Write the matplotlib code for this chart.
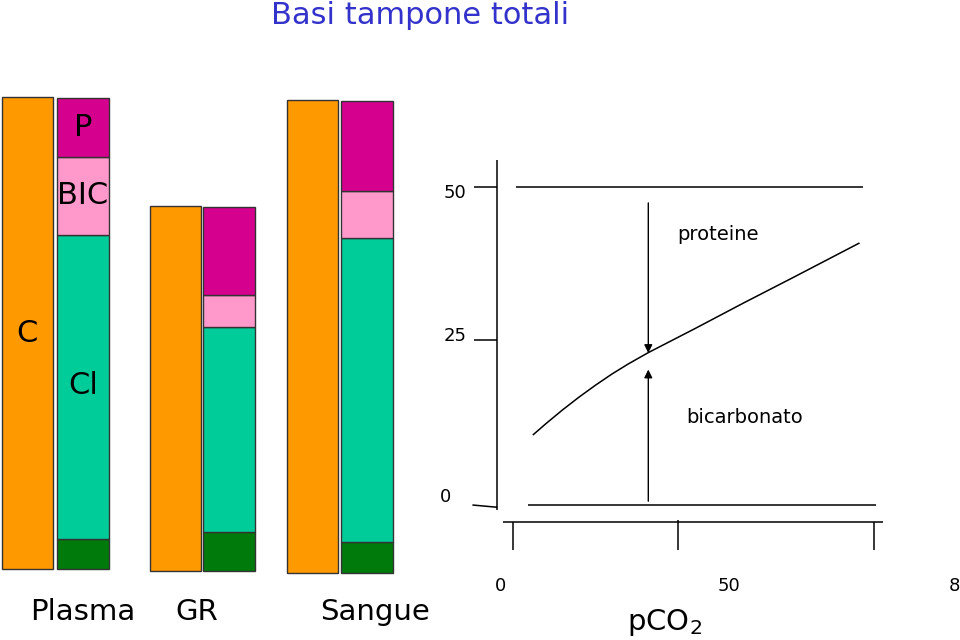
import numpy as np
import matplotlib
matplotlib.use("Agg")
import matplotlib.pyplot as plt

# Left panel: stacked bars (schematic units, same scale for all)
groups = ["Plasma", "GR", "Sangue"]
cations = [472, 365, 473]            # C
base = [71, 69, 67]
green = [30, 39, 31]                 # other anions
cl = [304, 205, 304]                 # Cl
bic = [78, 32, 47]                   # bicarbonate
prot = [59, 88, 90]                  # proteins

# Right panel: buffer bases vs pCO2
pco2 = [6, 10, 15, 20, 25, 30, 35, 41, 55, 70, 85, 105]
bicarb = [11.0, 12.8, 14.95, 16.96, 18.84, 20.6, 22.2, 23.96, 27.7, 31.8, 35.8, 41.2]
total_x = [1, 106]
total_y = [50, 50]
zero_x = [4.6, 110]
zero_y = [0, 0]
yticks = [0, 25, 50]
xticks = [0, 50, 80]

ORANGE = "#FF9900"
MAGENTA = "#D6008F"
PINK = "#FF99CC"
TEAL = "#00CC99"
GREEN = "#007A0A"
EDGE = "#333333"

fig = plt.figure(figsize=(9.6, 6.4), dpi=100)
fig.patch.set_facecolor("white")

fig.text(420 / 960, 1 - 16 / 640, "Basi tampone totali", ha="center", va="center",
         fontsize=22, color="#3333CC")

# ---- left bars
ax = fig.add_axes([0, 0, 420 / 960, 1])
ax.set_xlim(0, 420)
ax.set_ylim(0, 640)
ax.axis("off")

xo = [27.5, 175.5, 312.5]
xs = [83, 229, 366.5]
ax.bar(xo, cations, width=51, bottom=base, color=ORANGE, edgecolor=EDGE, lw=1)
b = np.array(base, dtype=float)
for vals, col in [(green, GREEN), (cl, TEAL), (bic, PINK), (prot, MAGENTA)]:
    ax.bar(xs, vals, width=52, bottom=b, color=col, edgecolor=EDGE, lw=1)
    b = b + np.array(vals)

ax.text(83, 513, "P", ha="center", va="center", fontsize=22)
ax.text(83, 444, "BIC", ha="center", va="center", fontsize=22)
ax.text(27, 307, "C", ha="center", va="center", fontsize=22)
ax.text(83, 254, "Cl", ha="center", va="center", fontsize=22)
for x, name in zip([83, 197, 375], groups):
    ax.text(x, 28, name, ha="center", va="center", fontsize=21)

# ---- right line chart
ax2 = fig.add_axes([420 / 960, 0, 540 / 960, 1])
ax2.set_xlim((420 - 513) / 3.3, (960 - 513) / 3.3)
ax2.set_ylim((505 - 640) / 6.36, 505 / 6.36)
ax2.axis("off")

k = dict(color="black", lw=1.1, solid_capstyle="butt")
ax2.plot(pco2, bicarb, **k)
ax2.plot(total_x, total_y, **k)
ax2.plot(zero_x, zero_y, **k)

# y axis with ticks
ax2.plot([-4.7, -4.7], [-0.8, 54.2], **k)
ax2.plot([-11.8, -4.7], [50, 50], **k)
ax2.plot([-11.8, -4.7], [25.9, 25.9], **k)
ax2.plot([-12.3, -4.7], [0, -0.36], **k)
for v, yy in zip(yticks, [1.2, 26.5, 49.0]):
    ax2.text(-17.5 if v else -20.5, yy, str(v), ha="center", va="center", fontsize=13)

# x axis with ticks
ax2.plot([-3, 112], [-2.6, -2.6], **k)
for tx in [0, 50, 109.4]:
    ax2.plot([tx, tx], [-2.4 if tx == 50 else -2.6, -7.1], **k)
for v, px in zip(xticks, [500, 729, 960]):
    ax2.text((px - 513) / 3.3, (505 - 586) / 6.36, str(v), ha="center", va="center",
             fontsize=13)
ax2.text((664 - 513) / 3.3, (505 - 622) / 6.36, "pCO$_2$", ha="center", va="center",
         fontsize=21)

# arrows
ap = dict(arrowstyle="-|>", color="black", lw=1.0, mutation_scale=12, shrinkA=0, shrinkB=0)
ax2.annotate("", xy=(41, 23.9), xytext=(41, 47.5), arrowprops=ap)
ax2.annotate("", xy=(41, 21.3), xytext=(41, 0.6), arrowprops=ap)
ax2.text(62, 42.6, "proteine", ha="center", va="center", fontsize=14)
ax2.text(70.2, 13.8, "bicarbonato", ha="center", va="center", fontsize=14)

fig.savefig("out.png", dpi=100)
